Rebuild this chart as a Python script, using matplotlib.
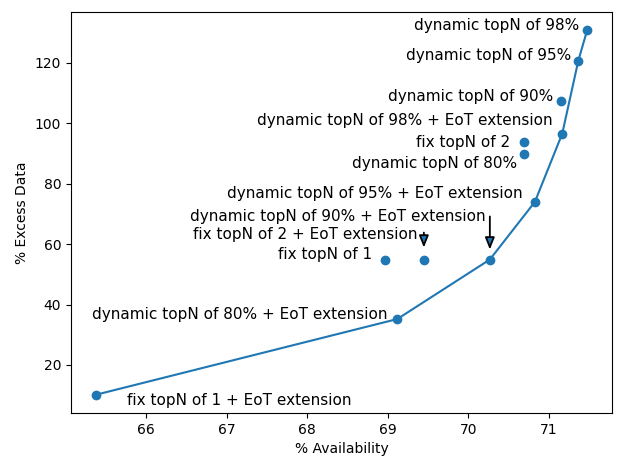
import matplotlib
matplotlib.use("Agg")
import matplotlib.pyplot as plt

labels = [
    "fix topN of 1 + EoT extension",
    "dynamic topN of 80% + EoT extension",
    "fix topN of 1",
    "fix topN of 2 + EoT extension",
    "dynamic topN of 90% + EoT extension",
    "dynamic topN of 95% + EoT extension",
    "dynamic topN of 80%",
    "fix topN of 2",
    "dynamic topN of 98% + EoT extension",
    "dynamic topN of 90%",
    "dynamic topN of 95%",
    "dynamic topN of 98%",
]
availability = [65.37, 69.12, 68.97, 69.45, 70.27, 70.83, 70.69, 70.69, 71.17, 71.15, 71.37, 71.48]
excess = [10.1, 35.2, 54.9, 54.9, 54.9, 74.0, 89.7, 93.7, 96.6, 107.5, 120.8, 130.9]

# Pareto front (indices into the arrays above)
front = [0, 1, 4, 5, 8, 10, 11]

# label offsets in points, alignment
offsets = {
    0: (22.3, -4.3, "left"),
    1: (-7.2, 3.6, "right"),
    2: (-9.4, 3.6, "right"),
    3: (-4.3, 18, "right"),
    4: (-2.9, 31, "right"),
    5: (-8.6, 5.8, "right"),
    6: (-5, -6.5, "right"),
    7: (-10, 0, "right"),
    8: (-7.2, 9.4, "right"),
    9: (-5, 2.9, "right"),
    10: (-5, 3.6, "right"),
    11: (-5.8, 2.9, "right"),
}
# arrows: index -> (start offset above point in pt, gap before point in pt)
arrows = {3: (19.4, 8.6), 4: (31, 7.2)}

fig, ax = plt.subplots(figsize=(6.23, 4.71), dpi=100)
ax.scatter(availability, excess, color="C0", zorder=3)
ax.plot([availability[i] for i in front], [excess[i] for i in front], color="C0")

for i, lab in enumerate(labels):
    dx, dy, ha = offsets[i]
    ax.annotate(lab, xy=(availability[i], excess[i]), xytext=(dx, dy),
                textcoords="offset points", ha=ha, va="center", fontsize=11)

for i, (top, gap) in arrows.items():
    ax.annotate("", xy=(availability[i], excess[i]), xytext=(0, top),
                textcoords="offset points",
                arrowprops=dict(arrowstyle="-|>,head_length=0.4,head_width=0.16",
                                mutation_scale=18, facecolor="C0", edgecolor="black",
                                lw=1.3, shrinkA=0, shrinkB=gap))

ax.set_xlabel("% Availability")
ax.set_ylabel("% Excess Data")
fig.subplots_adjust(left=0.114, right=0.982, top=0.975, bottom=0.123)
fig.savefig("out.png", dpi=100)
